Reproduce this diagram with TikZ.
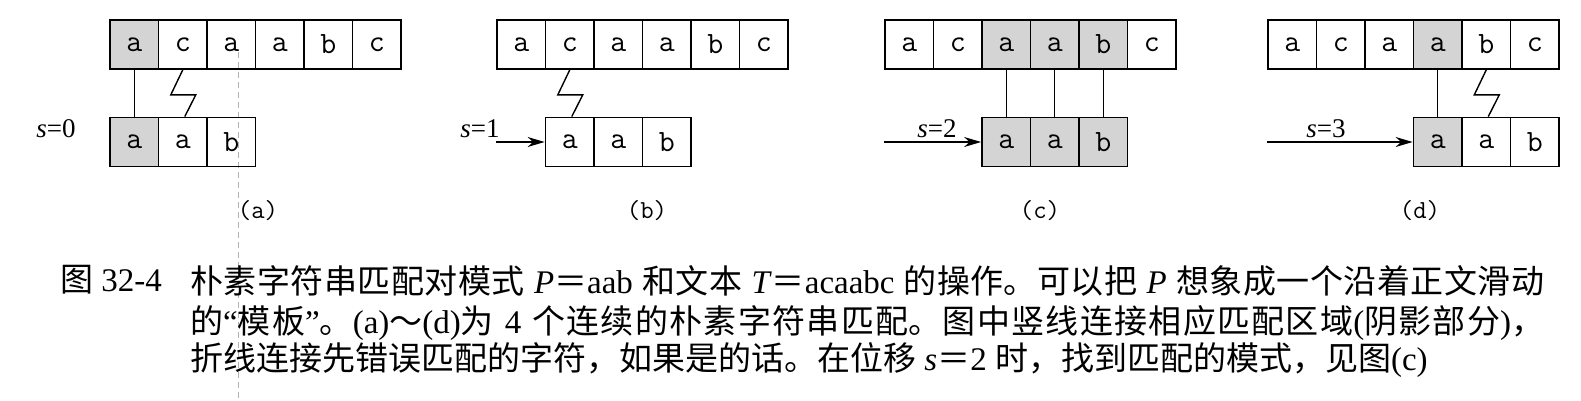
\documentclass[tikz,border=0pt]{standalone}
\usepackage{fontspec}
\setmainfont{Liberation Serif}
\newfontfamily\cjkfont{Noto Sans CJK SC}
\usetikzlibrary{arrows.meta}
\definecolor{matched}{HTML}{D4D4D4}
\newcommand\cn[1]{{\cjkfont #1}}
\XeTeXlinebreaklocale "zh"
\XeTeXlinebreakskip=0pt plus 2pt minus 1pt

\tikzset{
  cell/.style={draw, line width=1.8pt, minimum width=48.5pt, minimum height=49pt, inner sep=0pt, font=\ttfamily\fontsize{31}{31}\selectfont},
  link/.style={line width=1.4pt},
  slide/.style={line width=1.4pt, -{Stealth[length=17pt,width=10pt]}},
  slabel/.style={font=\fontsize{27}{27}\selectfont},
  sub/.style={font=\ttfamily\fontsize{26}{26}\selectfont},
  figcap/.style={anchor=north west, inner sep=0pt, font=\fontsize{33}{37.5}\selectfont},
}

\begin{document}
\begin{tikzpicture}[x=1pt,y=-1pt]
  \useasboundingbox (0,0) rectangle (1581,401);
  \draw[gray!60, line width=0.8pt, dash pattern=on 6pt off 4pt] (238,52) -- (238,401);

  \foreach \ch/\fc [count=\i] in {a/matched,c/none,a/none,a/none,b/none,c/none}
    \node[cell, fill=\fc] (ta\i) at ({110+48.5*(\i-.5)},44.5) {\ch};
  \foreach \ch/\fc [count=\i] in {a/matched,a/none,b/none}
    \node[cell, fill=\fc] (pa\i) at ({110+48.5*(\i-.5)},142) {\ch};
  \draw[link] (ta1.south) -- (pa1.north);
  \draw[link] (ta2.south) -- ++(-12,25) -- ++(25,0) -- ([xshift=2pt]pa2.north);
  \node[slabel] (sa) at (56,129) {\textit{s}=0};
  \node[sub] (la) at (258,211) {(a)};

  \foreach \ch [count=\i] in {a,c,a,a,b,c}
    \node[cell] (tb\i) at ({497+48.5*(\i-.5)},44.5) {\ch};
  \foreach \ch [count=\i] in {a,a,b}
    \node[cell] (pb\i) at ({545.5+48.5*(\i-.5)},142) {\ch};
  \draw[link] (tb2.south) -- ++(-12,25) -- ++(25,0) -- ([xshift=2pt]pb1.north);
  \draw[slide] (tb1.west |- pb1.west) -- (pb1.west);
  \node[slabel] (sb) at (480,129) {\textit{s}=1};
  \node[sub] (lb) at (647,211) {(b)};

  \foreach \ch/\fc [count=\i] in {a/none,c/none,a/matched,a/matched,b/matched,c/none}
    \node[cell, fill=\fc] (tc\i) at ({885+48.5*(\i-.5)},44.5) {\ch};
  \foreach \ch [count=\i] in {a,a,b}
    \node[cell, fill=matched] (pc\i) at ({982+48.5*(\i-.5)},142) {\ch};
  \draw[link] (tc3.south) -- (pc1.north);
  \draw[link] (tc4.south) -- (pc2.north);
  \draw[link] (tc5.south) -- (pc3.north);
  \draw[slide] (tc1.west |- pc1.west) -- (pc1.west);
  \node[slabel] (sc) at (937,129) {\textit{s}=2};
  \node[sub] (lc) at (1040,211) {(c)};

  \foreach \ch/\fc [count=\i] in {a/none,c/none,a/none,a/matched,b/none,c/none}
    \node[cell, fill=\fc] (td\i) at ({1268+48.5*(\i-.5)},44.5) {\ch};
  \foreach \ch/\fc [count=\i] in {a/matched,a/none,b/none}
    \node[cell, fill=\fc] (pd\i) at ({1413.5+48.5*(\i-.5)},142) {\ch};
  \draw[link] (td4.south) -- (pd1.north);
  \draw[link] (td5.south) -- ++(-12,25) -- ++(25,0) -- ([xshift=2pt]pd2.north);
  \draw[slide] (td1.west |- pd1.west) -- (pd1.west);
  \node[slabel] (sd) at (1326,129) {\textit{s}=3};
  \node[sub] (ld) at (1420,211) {(d)};

  \node[figcap] (fig) at (60,265) {\strut\cn{图} 32-4};
  \node[figcap, text width=1354pt, align=justify] (cap) at (190,265) {\strut\cn{朴素字符串匹配对模式} \textit{P}\cn{＝}aab \cn{和文本} \textit{T}\cn{＝}acaabc \cn{的操作。可以把} \textit{P} \cn{想象成一个沿着正文滑动}\linebreak
    \cn{的}“\cn{模板}”\cn{。}(a)\cn{～}(d)\cn{为} 4 \cn{个连续的朴素字符串匹配。图中竖线连接相应匹配区域}(\cn{阴影部分})\cn{，}\linebreak
    \cn{折线连接先错误匹配的字符，如果是的话。在位移} \textit{s}\cn{＝}2 \cn{时，找到匹配的模式，见图}(c)};
\end{tikzpicture}
\end{document}
